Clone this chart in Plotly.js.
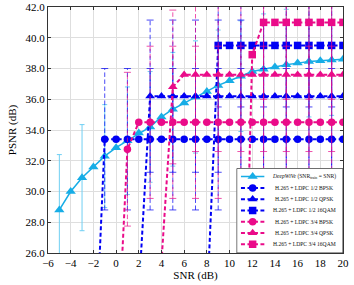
<!DOCTYPE html>
<html><head><meta charset="utf-8">
<script src="https://cdn.plot.ly/plotly-3.0.1.min.js"></script>
<style>html,body{margin:0;padding:0;background:#fff}</style>
</head><body>
<div id="chart" style="width:354px;height:285px"></div>
<script>
// ---- DeepWiVe (SNR_train = SNR)
const snrDeep = [-5,-4,-3,-2,-1,0,1,2,3,4,5,6,7,8,9,10,11,12,13,14,15,16,17,18,19,20];
const psnrDeep = [28.8,30.0,30.9,31.6,32.3,32.85,33.3,33.8,34.2,34.85,35.35,35.75,36.15,36.5,36.9,37.2,37.5,37.8,37.95,38.1,38.25,38.35,38.45,38.5,38.55,38.6];
const errSnrDeep = [-5,-3,-1,1,3,5,7,9,11,13,15,17,19];
const errDeep = [3.6,3.45,3.35,3.5,3.6,3.7,3.65,3.6,3.6,3.6,3.6,3.6,3.6];

// ---- H.265 + LDPC 1/2 BPSK
const snrB12 = [-2,-1,0,1,2,3,4,5,6,7,8,9,10,11,12,13,14,15,16,17,18,19,20];
const psnrB12 = [16.5,33.4,33.4,33.4,33.4,33.4,33.4,33.4,33.4,33.4,33.4,33.4,33.4,33.4,33.4,33.4,33.4,33.4,33.4,33.4,33.4,33.4,33.4];
const errSnrB12 = [-1,1,3,5,7,9,11,13,15,17,19];
const errB12 = [4.6,4.6,4.6,4.6,4.6,4.6,4.6,4.6,4.6,4.6,4.6];

// ---- H.265 + LDPC 1/2 QPSK
const snrQ12 = [2,3,4,5,6,7,8,9,10,11,12,13,14,15,16,17,18,19,20];
const psnrQ12 = [23.4,36.2,36.2,36.2,36.2,36.2,36.2,36.2,36.2,36.2,36.2,36.2,36.2,36.2,36.2,36.2,36.2,36.2,36.2];
const errSnrQ12 = [3,5,7,9,11,13,15,17,19];
const errQ12 = [4.95,4.95,4.95,4.95,4.95,4.95,4.95,4.95,4.95];

// ---- H.265 + LDPC 1/2 16QAM
const snrM12 = [8,9,10,11,12,13,14,15,16,17,18,19,20];
const psnrM12 = [22.5,39.5,39.5,39.5,39.5,39.5,39.5,39.5,39.5,39.5,39.5,39.5,39.5];
const errSnrM12 = [9,11,13,15,17,19];
const errM12 = [4.0,4.0,4.0,4.0,4.0,4.0];

// ---- H.265 + LDPC 3/4 BPSK
const snrB34 = [0,1,2,3,4,5,6,7,8,9,10,11,12,13,14,15,16,17,18,19,20];
const psnrB34 = [17.7,32.75,34.5,34.5,34.5,34.5,34.5,34.5,34.5,34.5,34.5,34.5,34.5,34.5,34.5,34.5,34.5,34.5,34.5,34.5,34.5];
const errSnrB34 = [1,3,5,7,9,11,13,15,17,19];
const errB34 = [5.0,4.95,4.95,4.95,4.95,4.95,4.95,4.95,4.95,4.95];

// ---- H.265 + LDPC 3/4 QPSK
const snrQ34 = [4,5,6,7,8,9,10,11,12,13,14,15,16,17,18,19,20];
const psnrQ34 = [25.4,36.8,37.6,37.6,37.6,37.6,37.6,37.6,37.6,37.6,37.6,37.6,37.6,37.6,37.6,37.6,37.6];
const errSnrQ34 = [5,7,9,11,13,15,17,19];
const errQ34 = [5.0,5.0,5.0,5.0,5.0,5.0,5.0,5.0];

// ---- H.265 + LDPC 3/4 16QAM
const snrM34 = [11,12,13,14,15,16,17,18,19,20];
const psnrM34 = [10.0,38.9,41.0,41.0,41.0,41.0,41.0,41.0,41.0,41.0];
const errSnrM34 = [13,15,17,19];
const errM34 = [5.0,5.0,5.0,5.0];

const legendLabels = [
  '<i>DeepWiVe</i> (SNR<sub>train</sub> = SNR)',
  'H.265 + LDPC 1/2 BPSK',
  'H.265 + LDPC 1/2 QPSK',
  'H.265 + LDPC 1/2 16QAM',
  'H.265 + LDPC 3/4 BPSK',
  'H.265 + LDPC 3/4 QPSK',
  'H.265 + LDPC 3/4 16QAM'
];
const xTicks = [-6,-4,-2,0,2,4,6,8,10,12,14,16,18,20];

const CYAN = '#17ade6', CYAN_ERR = '#6fcff3', BLUE = '#0000f4', PINK = '#ea0b89';
const DASH = '4px,2.5px', EDASH = '4.5px,2.5px';

function errTraces(snr, psnr, errSnr, err, color) {
  const xs = [], ys = [], cx = [], cy = [];
  errSnr.forEach((x, i) => {
    const v = psnr[snr.indexOf(x)];
    xs.push(x, x, null); ys.push(v - err[i], v + err[i], null);
    cx.push(x, x); cy.push(v - err[i], v + err[i]);
  });
  return [
    {x: xs, y: ys, mode: 'lines', opacity: 0.7, line: {color: color, width: 1, dash: EDASH}, hoverinfo: 'skip', showlegend: false, xaxis: 'x', yaxis: 'y'},
    {x: cx, y: cy, mode: 'markers', opacity: 0.7, marker: {symbol: 'line-ew', size: 5, color: color, line: {color: color, width: 1}}, hoverinfo: 'skip', showlegend: false, xaxis: 'x', yaxis: 'y'}
  ];
}
function mainTrace(snr, psnr, color, symbol, size, dash, width) {
  return {x: snr, y: psnr, mode: 'lines+markers', line: {color: color, width: width, dash: dash},
          marker: {symbol: symbol, size: size, color: color}, showlegend: false, xaxis: 'x', yaxis: 'y'};
}

const data = [];
data.push({
  x: errSnrDeep, y: errSnrDeep.map(x => psnrDeep[snrDeep.indexOf(x)]), mode: 'markers',
  marker: {size: 1, opacity: 0}, showlegend: false, hoverinfo: 'skip',
  error_y: {type: 'data', array: errDeep, color: CYAN_ERR, thickness: 1, width: 2.5}
});
data.push(mainTrace(snrDeep, psnrDeep, CYAN, 'triangle-up', 9, 'solid', 1.5));

const series = [
  [snrB12, psnrB12, errSnrB12, errB12, BLUE, 'circle', 7.5],
  [snrQ12, psnrQ12, errSnrQ12, errQ12, BLUE, 'triangle-up', 8.5],
  [snrM12, psnrM12, errSnrM12, errM12, BLUE, 'square', 7.5],
  [snrB34, psnrB34, errSnrB34, errB34, PINK, 'circle', 7.5],
  [snrQ34, psnrQ34, errSnrQ34, errQ34, PINK, 'triangle-up', 8.5],
  [snrM34, psnrM34, errSnrM34, errM34, PINK, 'square', 7.5]
];
series.forEach(s => {
  errTraces(s[0], s[1], s[2], s[3], s[4]).forEach(t => data.push(t));
  data.push(mainTrace(s[0], s[1], s[4], s[5], s[6], DASH, 2));
});

// custom legend box on an auxiliary subplot
data.push({x: [0, 1, 1, 0, 0], y: [0, 0, 1, 1, 0], mode: 'lines', fill: 'toself', fillcolor: '#ffffff',
           line: {color: '#3a3a3a', width: 1}, xaxis: 'x2', yaxis: 'y2', showlegend: false, hoverinfo: 'skip'});
const legColors = [CYAN, BLUE, BLUE, BLUE, PINK, PINK, PINK];
const legSymbols = ['triangle-up', 'circle', 'triangle-up', 'square', 'circle', 'triangle-up', 'square'];
const legSizes = [9, 7.5, 8.5, 7.5, 7.5, 8.5, 7.5];
const rowY = [0.905, 0.77, 0.637, 0.503, 0.37, 0.237, 0.103];
const annotations = [];
legendLabels.forEach((lab, i) => {
  data.push({x: [0.04, 0.15, 0.26], y: [rowY[i], rowY[i], rowY[i]], mode: 'lines', xaxis: 'x2', yaxis: 'y2',
             line: {color: legColors[i], width: i === 0 ? 1.5 : 2, dash: i === 0 ? 'solid' : DASH}, showlegend: false, hoverinfo: 'skip'});
  data.push({x: [0.15], y: [rowY[i]], mode: 'markers', xaxis: 'x2', yaxis: 'y2',
             marker: {symbol: legSymbols[i], size: legSizes[i], color: legColors[i]}, showlegend: false, hoverinfo: 'skip'});
  annotations.push({xref: 'x2', yref: 'y2', x: 0.635, y: rowY[i], text: lab, showarrow: false,
                    xanchor: 'center', yanchor: 'middle', font: {family: 'Liberation Serif', size: 5.6, color: '#111'}});
});

const layout = {
  width: 354, height: 285,
  margin: {l: 48, r: 11, t: 7, b: 32},
  paper_bgcolor: '#fff', plot_bgcolor: '#fff',
  font: {family: 'Liberation Serif', size: 11, color: '#000'},
  showlegend: false,
  xaxis: {range: [-6, 20], tickvals: xTicks, ticks: 'inside', ticklen: 3, tickcolor: '#333',
          showgrid: true, gridcolor: '#dedede', gridwidth: 1, zeroline: false,
          showline: true, mirror: 'ticks', linecolor: '#333', linewidth: 1,
          title: {text: 'SNR (dB)', font: {size: 11}, standoff: 2}},
  yaxis: {range: [26, 42], dtick: 2, tick0: 26, tickformat: '.1f', ticks: 'inside', ticklen: 3, tickcolor: '#333',
          showgrid: true, gridcolor: '#dedede', gridwidth: 1, zeroline: false,
          showline: true, mirror: 'ticks', linecolor: '#333', linewidth: 1,
          title: {text: 'PSNR (dB)', font: {size: 11}, standoff: 6}},
  xaxis2: {domain: [0.6386, 1], range: [-0.003, 1.0], visible: false, anchor: 'y2', fixedrange: true},
  yaxis2: {domain: [0, 0.345], range: [0, 1.004], visible: false, anchor: 'x2', fixedrange: true},
  annotations: annotations
};
Plotly.newPlot('chart', data, layout, {displayModeBar: false, staticPlot: true});
</script>
</body></html>
